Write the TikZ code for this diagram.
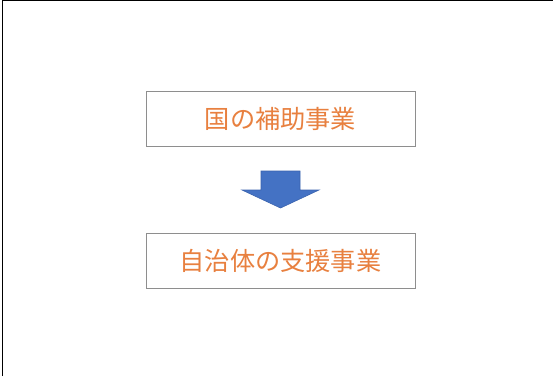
\documentclass[tikz,border=0pt]{standalone}
\usepackage{fontspec}
\newfontfamily\cjk{Noto Sans CJK JP}
\definecolor{txtorange}{HTML}{E8803F}
\definecolor{boxgray}{HTML}{8E8E8E}
\definecolor{arrowblue}{HTML}{4472C4}
\definecolor{arrowedge}{HTML}{3A63AE}
\begin{document}
\begin{tikzpicture}[x=1pt,y=-1pt,
  box/.style={draw=boxgray,line width=1pt,fill=white,minimum width=269pt,minimum height=55pt,inner sep=0pt,
    font=\cjk\fontsize{25.2pt}{28pt}\selectfont,text=txtorange},
  blockarrow/.style={fill=arrowblue,draw=arrowedge,line width=0.6pt,line join=miter}]
\useasboundingbox (0,0) rectangle (553,376);
\fill[white] (0,0) rectangle (553,376);
\draw[line width=1.4pt] (2.5,376) -- (2.5,0.7) -- (553,0.7);
\node[box] (top) at (280.5,118.5) {国の補助事業};
\node[box] (bot) at (280.5,260.5) {自治体の支援事業};
\coordinate (tip) at (280.5,208);
\draw[blockarrow] (261,171) -- (300,171) -- (300,190) -- (319,190) -- (tip) -- (242,190) -- (261,190) -- cycle;
\end{tikzpicture}
\end{document}
